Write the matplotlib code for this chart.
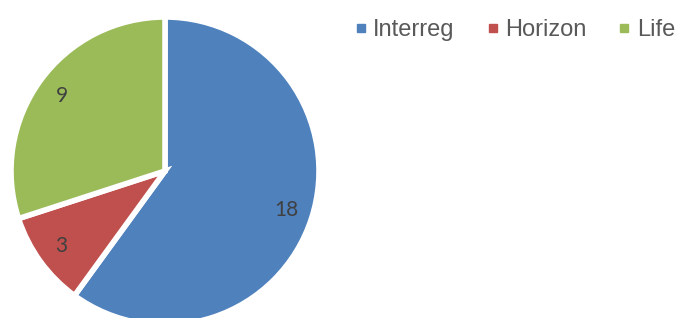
import matplotlib.pyplot as plt
from matplotlib.lines import Line2D

# data
labels = ['Interreg', 'Horizon', 'Life']
values = [18, 3, 9]
colors = ['#4F81BD', '#C0504D', '#9BBB59']

fig = plt.figure(figsize=(6.77, 3.18), dpi=100)

# pie axes: center ~ (165,171) px, radius ~154 px
cx, cy, r = 165, 171, 154
ax = fig.add_axes([(cx - r) / 677, (318 - cy - r) / 318, 2 * r / 677, 2 * r / 318])
ax.pie(values, colors=colors, startangle=90, counterclock=False,
       autopct=lambda p: '%d' % round(p * sum(values) / 100),
       pctdistance=0.83,
       wedgeprops=dict(edgecolor='white', linewidth=4),
       textprops=dict(color='#404040', fontsize=15, family='Lato'))
ax.set_xlim(-1, 1)
ax.set_ylim(-1, 1)
ax.set_aspect('equal')
ax.axis('off')

# legend
handles = [Line2D([], [], marker='s', linestyle='none', markersize=6,
                  markerfacecolor=c, markeredgecolor=c) for c in colors]
leg = fig.legend(handles, labels, ncol=3, loc='center right',
                 bbox_to_anchor=(675 / 677, 1 - 30 / 318), frameon=False,
                 borderpad=0, borderaxespad=0,
                 handlelength=0.6, handletextpad=0.23, columnspacing=1.3,
                 prop=dict(family='Liberation Sans', size=17))
for t in leg.get_texts():
    t.set_color('#595959')

fig.savefig('out.png', dpi=100)
